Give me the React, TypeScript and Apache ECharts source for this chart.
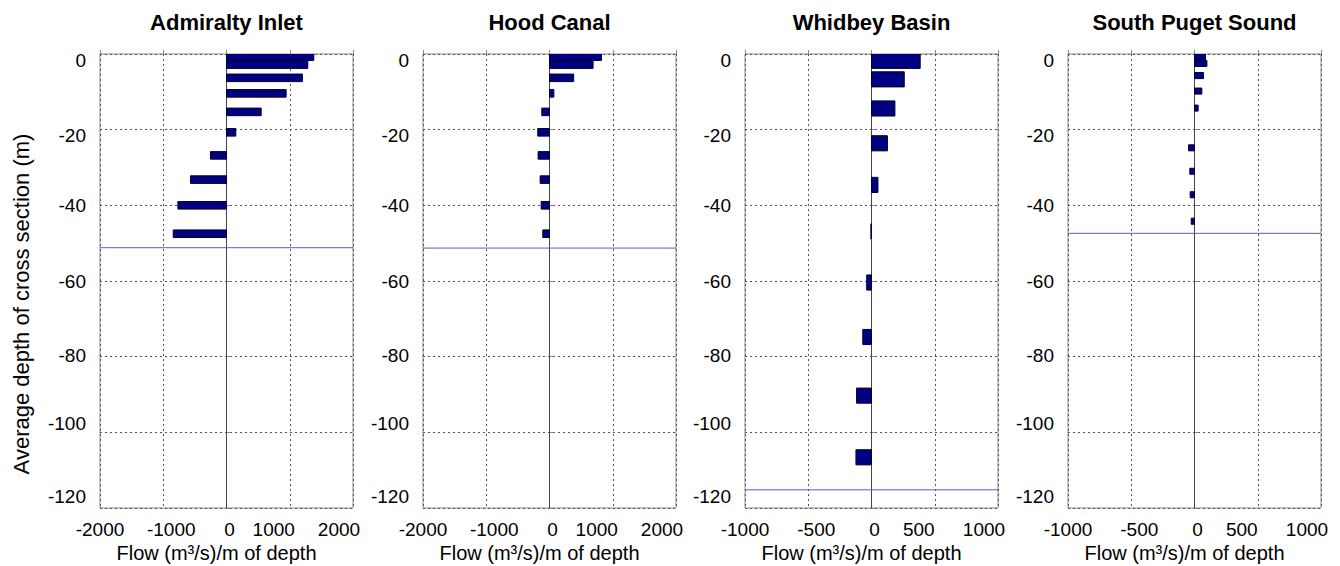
import React, { useEffect, useRef } from "react";
import * as echarts from "echarts";

// ---------- data ----------
const panelTitles = ["Admiralty Inlet", "Hood Canal", "Whidbey Basin", "South Puget Sound"];

const admiraltyDepth = [-0.7, -2.8, -6.3, -10.4, -15.3, -20.7, -26.8, -33.2, -40.0, -47.5];
const admiraltyFlow = [1380, 1285, 1200, 943, 548, 147, -253, -569, -769, -842];

const hoodDepth = [-0.7, -2.8, -6.3, -10.4, -15.3, -20.7, -26.8, -33.2, -40.0, -47.5];
const hoodFlow = [822, 689, 382, 69, -122, -186, -180, -148, -132, -106];

const whidbeyDepth = [-1.8, -6.7, -14.4, -23.6, -34.6, -46.9, -60.4, -74.8, -90.3, -106.6];
const whidbeyFlow = [385, 259, 185, 126, 51, -5, -38, -69, -118, -123];

const southDepth = [-0.8, -2.5, -5.7, -9.8, -14.3, -24.8, -31.0, -37.2, -44.2];
const southFlow = [87, 98, 71, 58, 29, -47, -37, -34, -26];

const basinBottomDepth = [-51.2, -51.3, -115.2, -47.4];

const flowMax = [2000, 2000, 1000, 1000];
const flowInterval = [1000, 1000, 500, 500];
const depthMin = -120;
const depthMax = 0;
const depthInterval = 20;

const yAxisTitle = "Average depth of cross section (m)";
const xAxisTitle = "Flow (m³/s)/m of depth";

// ---------- layout / style ----------
const FONT = 'Arial, "Liberation Sans", Helvetica, sans-serif';
const gridLefts = [100, 423, 745, 1068];
const gridWidth = 253;
const gridTop = 54;
const gridHeight = 454;
const layerThickness = [2, 2, 4, 1.6]; // metres, bar height
const xLabelShift = [0, 8, 3, -16, -14];
const yLabelShift: Record<string, number> = {
  "0": 6.5,
  "20": 5.7,
  "40": 0,
  "60": 0,
  "80": -1.5,
  "100": -9,
  "120": -11.5,
};
const TICK_FONT = 19;

const panels = [
  { depth: admiraltyDepth, flow: admiraltyFlow },
  { depth: hoodDepth, flow: hoodFlow },
  { depth: whidbeyDepth, flow: whidbeyFlow },
  { depth: southDepth, flow: southFlow },
];

function buildOption() {
  const grid: any[] = [];
  const xAxis: any[] = [];
  const yAxis: any[] = [];
  const series: any[] = [];
  const graphic: any[] = [];

  const xRich: Record<string, any> = {};
  xLabelShift.forEach((dx, i) => {
    xRich["x" + i] = {
      fontSize: TICK_FONT,
      color: "#000",
      fontFamily: FONT,
      padding: dx >= 0 ? [0, 0, 0, 2 * dx] : [0, -2 * dx, 0, 0],
    };
  });
  const yRich: Record<string, any> = {};
  Object.keys(yLabelShift).forEach((k) => {
    const dy = yLabelShift[k];
    yRich["y" + k] = {
      fontSize: TICK_FONT,
      color: "#000",
      fontFamily: FONT,
      padding: dy >= 0 ? [2 * dy, 0, 0, 0] : [0, 0, -2 * dy, 0],
    };
  });

  panels.forEach((p, i) => {
    grid.push({
      left: gridLefts[i],
      top: gridTop,
      width: gridWidth,
      height: gridHeight,
      show: true,
      borderColor: "#8a8a8a",
      borderWidth: 1,
      backgroundColor: "#fff",
      containLabel: false,
      outerBoundsMode: "none",
    });
    xAxis.push({
      type: "value",
      gridIndex: i,
      min: -flowMax[i],
      max: flowMax[i],
      interval: flowInterval[i],
      axisLine: { show: false },
      axisTick: { show: true, inside: true, length: 4, lineStyle: { color: "#8a8a8a" } },
      splitLine: { show: true, lineStyle: { type: [2, 3], color: "#555", width: 1 } },
      axisLabel: {
        margin: 12,
        fontSize: TICK_FONT,
        color: "#000",
        fontFamily: FONT,
        formatter: (v: number, idx: number) => `{x${idx}|${v}}`,
        rich: xRich,
      },
      name: xAxisTitle,
      nameLocation: "middle",
      nameGap: 35,
      nameMoveOverlap: false,
      nameTextStyle: { fontSize: 20, color: "#000", fontFamily: FONT, padding: [0, 20, 0, 0] },
    });
    yAxis.push({
      type: "value",
      gridIndex: i,
      min: depthMin,
      max: depthMax,
      interval: depthInterval,
      axisLine: { show: false },
      axisTick: { show: true, inside: true, length: 4, lineStyle: { color: "#8a8a8a" } },
      splitLine: { show: true, lineStyle: { type: [2, 3], color: "#555", width: 1 } },
      axisLabel: {
        margin: 14,
        fontSize: TICK_FONT,
        color: "#000",
        fontFamily: FONT,
        formatter: (v: number) => `{y${Math.abs(v)}|${v}}`,
        rich: yRich,
      },
    });

    // zero-flow reference line
    series.push({
      type: "line",
      xAxisIndex: i,
      yAxisIndex: i,
      data: [
        [0, depthMin],
        [0, depthMax],
      ],
      symbol: "none",
      silent: true,
      lineStyle: { color: "#444", width: 1 },
      z: 2,
    });
    // basin bottom line
    series.push({
      type: "line",
      xAxisIndex: i,
      yAxisIndex: i,
      data: [
        [-flowMax[i], basinBottomDepth[i]],
        [flowMax[i], basinBottomDepth[i]],
      ],
      symbol: "none",
      silent: true,
      lineStyle: { color: "#5a5ad6", width: 1 },
      z: 2,
    });

    const data = p.depth.map((d, k) => [p.flow[k], d]);
    const thick = layerThickness[i];
    series.push({
      type: "custom",
      xAxisIndex: i,
      yAxisIndex: i,
      clip: true,
      data,
      renderItem: (params: any, api: any) => {
        const f = api.value(0);
        const d = api.value(1);
        const a = api.coord([0, d]);
        const b = api.coord([f, d]);
        const h = api.size([0, thick])[1];
        return {
          type: "rect",
          shape: {
            x: Math.min(a[0], b[0]),
            y: a[1] - h / 2,
            width: Math.abs(b[0] - a[0]),
            height: h,
          },
          style: { fill: "#000080", stroke: "#000030", lineWidth: 1 },
        };
      },
      z: 3,
    });

    graphic.push({
      type: "text",
      x: gridLefts[i] + gridWidth / 2,
      y: 22,
      style: {
        text: panelTitles[i],
        fontSize: 22,
        fontWeight: "bold",
        fontFamily: FONT,
        fill: "#000",
        align: "center",
        verticalAlign: "middle",
      },
    });
  });

  graphic.push({
    type: "text",
    x: 21,
    y: 304,
    rotation: Math.PI / 2,
    style: {
      text: yAxisTitle,
      fontSize: 22,
      fontFamily: FONT,
      fill: "#000",
      align: "center",
      verticalAlign: "middle",
    },
  });

  return {
    animation: false,
    backgroundColor: "#fff",
    textStyle: { fontFamily: FONT },
    grid,
    xAxis,
    yAxis,
    series,
    graphic,
  };
}

export default function App() {
  const ref = useRef<HTMLDivElement>(null);
  useEffect(() => {
    if (!ref.current) return;
    const chart = echarts.init(ref.current, undefined, { renderer: "svg" });
    chart.setOption(buildOption() as any);
    return () => chart.dispose();
  }, []);
  return (
    <div
      ref={ref}
      style={{ position: "fixed", left: 0, top: 0, width: 1340, height: 566, background: "#fff" }}
    />
  );
}
